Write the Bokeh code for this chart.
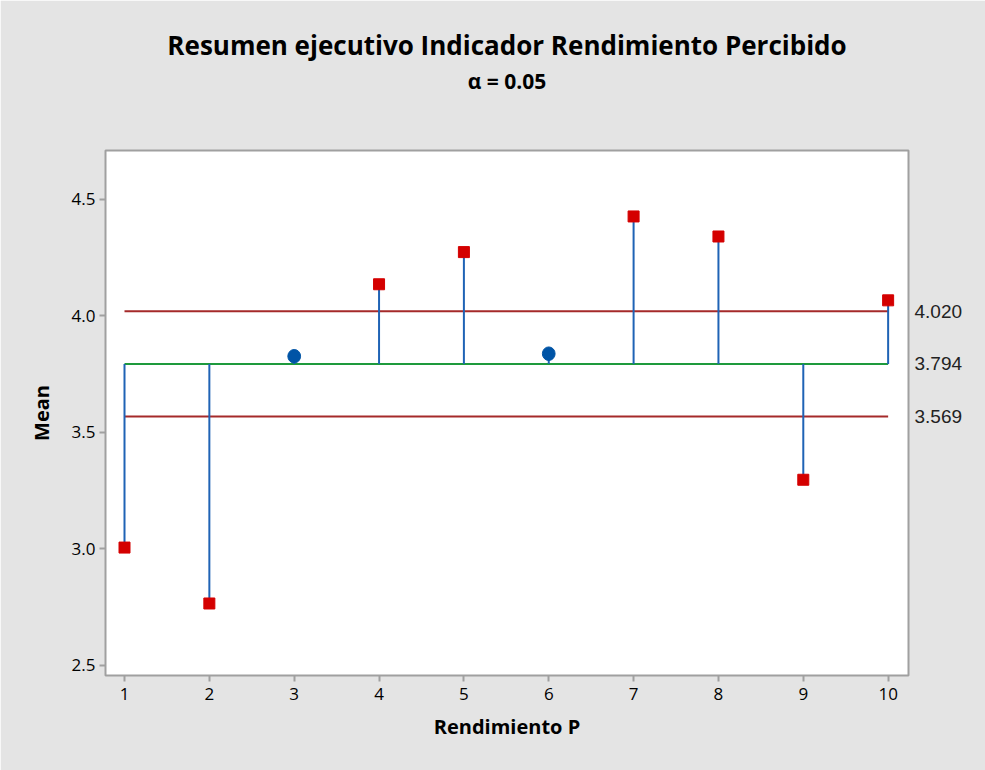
from bokeh.plotting import figure
from bokeh.models import Range1d, FixedTicker, LinearAxis
from bokeh.embed import file_html
from bokeh.resources import INLINE

# ---- data ----
samples = [1, 2, 3, 4, 5, 6, 7, 8, 9, 10]
means = [3.006, 2.766, 3.827, 4.136, 4.274, 3.838, 4.427, 4.341, 3.297, 4.067]
center = 3.794
upper = 4.020
lower = 3.569
limit_labels = ["4.020", "3.794", "3.569"]
x_ticks = [1, 2, 3, 4, 5, 6, 7, 8, 9, 10]
y_ticks = [2.5, 3.0, 3.5, 4.0, 4.5]

title_text = "Resumen ejecutivo Indicador Rendimiento Percibido"
subtitle_text = "α = 0.05"
x_label = "Rendimiento P"
y_label = "Mean"

FONT = "Open Sans"
BG = "#e4e4e4"

p = figure(width=985, height=770, output_backend="svg", toolbar_location=None,
           x_range=Range1d(0.776, 10.24), y_range=Range1d(2.457, 4.71),
           min_border_left=105, min_border_right=77, min_border_top=150,
           min_border_bottom=95)
p.background_fill_color = "white"
p.border_fill_color = BG
p.outline_line_color = "#a0a0a0"
p.outline_line_width = 2
p.grid.visible = False

xax = p.below[0]
yax = p.left[0]

# main title
p.title.text = title_text
p.title.align = "center"
p.title.text_font = FONT
p.title.text_font_size = "26px"
p.title.text_font_style = "bold"
p.title.text_color = "black"
p.title.standoff = 2

# subtitle carried by a tick-less axis above the frame
sub_ax = LinearAxis(ticker=FixedTicker(ticks=[]), axis_label=subtitle_text)
sub_ax.axis_line_color = None
sub_ax.major_tick_line_color = None
sub_ax.minor_tick_line_color = None
sub_ax.major_tick_out = 0
sub_ax.minor_tick_out = 0
sub_ax.major_label_standoff = 0
sub_ax.axis_label_standoff = 56
sub_ax.axis_label_text_font = FONT
sub_ax.axis_label_text_font_size = "21px"
sub_ax.axis_label_text_font_style = "bold"
sub_ax.axis_label_text_color = "black"
p.add_layout(sub_ax, "above")

for ax in (xax, yax):
    ax.axis_line_color = None
    ax.major_tick_line_color = "#a0a0a0"
    ax.major_tick_line_width = 2
    ax.major_tick_out = 6
    ax.major_tick_in = 0
    ax.minor_tick_line_color = None
    ax.major_label_text_font = FONT
    ax.major_label_text_font_size = "17px"
    ax.major_label_text_color = "black"
    ax.axis_label_text_font = FONT
    ax.axis_label_text_font_size = "20px"
    ax.axis_label_text_font_style = "bold"
    ax.axis_label_text_color = "black"

xax.ticker = FixedTicker(ticks=x_ticks)
yax.ticker = FixedTicker(ticks=y_ticks)
yax.major_label_overrides = {t: f"{t:.1f}" for t in y_ticks}
xax.axis_label = x_label
yax.axis_label = y_label
xax.major_label_standoff = 6
yax.major_label_standoff = 4
xax.axis_label_standoff = 10
yax.axis_label_standoff = 14

# right axis with limit values
p.extra_y_ranges = {"lim": Range1d(2.457, 4.71)}
rax = LinearAxis(y_range_name="lim")
rax.ticker = FixedTicker(ticks=[upper, center, lower])
rax.major_label_overrides = {v: t for v, t in zip([upper, center, lower], limit_labels)}
rax.axis_line_color = None
rax.major_tick_line_color = None
rax.minor_tick_line_color = None
rax.major_tick_out = 0
rax.major_label_standoff = 6
rax.major_label_text_font = "Liberation Sans"
rax.major_label_text_font_size = "19px"
rax.major_label_text_color = "#222222"
p.add_layout(rax, "right")

# limit lines
x0, x1 = samples[0], samples[-1]
p.segment(x0=[x0, x0], x1=[x1, x1], y0=[upper, lower], y1=[upper, lower],
          line_color="#a52a2a", line_width=2)
p.segment(x0=[x0], x1=[x1], y0=[center], y1=[center],
          line_color="#1e9a3c", line_width=2)

# stems
p.segment(x0=samples, x1=samples, y0=[center] * len(samples), y1=means,
          line_color="#1f63b5", line_width=2)

inside_x = [s for s, m in zip(samples, means) if lower <= m <= upper]
inside_y = [m for m in means if lower <= m <= upper]
out_x = [s for s, m in zip(samples, means) if not (lower <= m <= upper)]
out_y = [m for m in means if not (lower <= m <= upper)]

p.scatter(out_x, out_y, marker="square", size=11, fill_color="#d40000",
          line_color="#d40000")
p.ellipse(inside_x, inside_y, width=0.15, height=0.058, fill_color="#0054a6",
          line_color="#0054a6")

open("out.html", "w").write(file_html(p, INLINE))
